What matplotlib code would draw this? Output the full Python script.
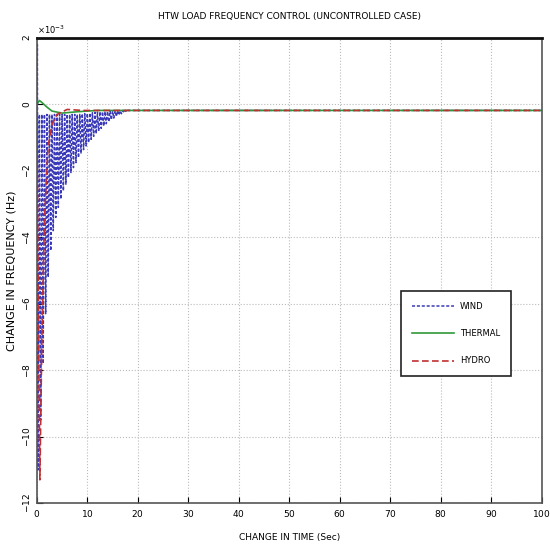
import matplotlib.pyplot as plt
import numpy as np

# values in units of 10^-3 Hz
wind_t = [0, 0.1, 0.25, 0.5, 0.75, 1.0, 1.25, 1.5, 1.75, 2.0, 2.25, 2.5, 2.75, 3.0, 3.25, 3.5,
          3.75, 4.0, 4.25, 4.5, 4.75, 5.0, 5.25, 5.5, 5.75, 6.0, 6.25, 6.5, 6.75, 7.0, 7.25,
          7.5, 7.75, 8.0, 8.25, 8.5, 8.75, 9.0, 9.25, 9.5, 9.75, 10.0, 10.25, 10.5, 10.75,
          11.0, 11.25, 11.5, 11.75, 12.0, 12.25, 12.5, 12.75, 13.0, 13.25, 13.5, 13.75, 14.0,
          14.25, 14.5, 14.75, 15.0, 15.25, 15.5, 15.75, 16.0, 16.25, 16.5, 16.75, 17.0, 17.25,
          17.5, 17.75, 18.0, 20.0, 100.0]
wind_v = [0, 1.8, -11.0, -0.3, -9.5, -0.3, -7.8, -0.3, -6.3, -0.3, -5.2, -0.3, -4.4, -0.3,
          -3.8, -0.3, -3.4, -0.3, -3.1, -0.3, -2.85, -0.3, -2.6, -0.3, -2.4, -0.3, -2.2, -0.3,
          -2.05, -0.3, -1.9, -0.3, -1.75, -0.3, -1.6, -0.3, -1.48, -0.28, -1.36, -0.28, -1.25,
          -0.27, -1.15, -0.26, -1.05, -0.25, -0.96, -0.24, -0.88, -0.23, -0.8, -0.22, -0.72,
          -0.22, -0.65, -0.21, -0.58, -0.21, -0.52, -0.2, -0.46, -0.2, -0.41, -0.19, -0.36,
          -0.19, -0.32, -0.19, -0.28, -0.18, -0.25, -0.18, -0.22, -0.18, -0.18, -0.18]

thermal_t = [0, 0.5, 1.0, 2.0, 3.0, 5.0, 8.0, 12.0, 100.0]
thermal_v = [0, 0.12, 0.06, -0.08, -0.2, -0.26, -0.22, -0.18, -0.18]

hydro_t = [0, 0.3, 0.6, 1.0, 1.5, 2.2, 3.0, 4.0, 6.0, 9.0, 100.0]
hydro_v = [0, -6.0, -11.3, -7.0, -3.5, -1.3, -0.6, -0.3, -0.15, -0.18, -0.18]

x_ticks = list(range(0, 101, 10))
y_ticks = [-12, -10, -8, -6, -4, -2, 0, 2]

plt.rcParams['axes.formatter.use_mathtext'] = True

fig = plt.figure(figsize=(5.5, 5.51), dpi=100)
ax = fig.add_axes([0.067, 0.087, 0.918, 0.844])

ax.plot(wind_t, np.array(wind_v) * 1e-3, color='#3a3ab8', ls=(0, (2, 1.2)), lw=1.1, label='WIND')
ax.plot(thermal_t, np.array(thermal_v) * 1e-3, color='#2e9a3a', lw=1.2, label='THERMAL')
ax.plot(hydro_t, np.array(hydro_v) * 1e-3, color='#c03030', ls=(0, (4, 2)), lw=1.2, label='HYDRO')

ax.set_xlim(0, 100)
ax.set_ylim(-12e-3, 2e-3)
ax.set_xticks(x_ticks)
ax.set_yticks(np.array(y_ticks) * 1e-3)
ax.ticklabel_format(axis='y', style='sci', scilimits=(-3, -3))
ax.tick_params(direction='in', labelsize=6.5, length=4)
fig.canvas.draw()
for lab in ax.get_yticklabels():
    lab.set_rotation(90)
    lab.set_va('center')
ax.yaxis.get_offset_text().set_fontsize(6)
ax.grid(True, ls=':', color='#bbbbbb', lw=0.8)

for s in ax.spines.values():
    s.set_color('#555555')
    s.set_linewidth(1.2)
ax.spines['top'].set_color('#111111')
ax.spines['top'].set_linewidth(2)

ax.set_title('HTW LOAD FREQUENCY CONTROL (UNCONTROLLED CASE)', fontsize=6.5, pad=14)
ax.set_xlabel('CHANGE IN TIME (Sec)', fontsize=6.5, labelpad=10)
ax.set_ylabel('CHANGE IN FREQUENCY (Hz)', fontsize=8, labelpad=3)

leg = ax.legend(loc='upper left', bbox_to_anchor=(0.713, 0.465),
                prop={'size': 6}, fancybox=False, framealpha=1,
                borderpad=1.3, labelspacing=2.2, handlelength=5.0)
leg.get_frame().set_edgecolor('#222222')
leg.get_frame().set_linewidth(1.2)

fig.savefig('out.png', dpi=100)
